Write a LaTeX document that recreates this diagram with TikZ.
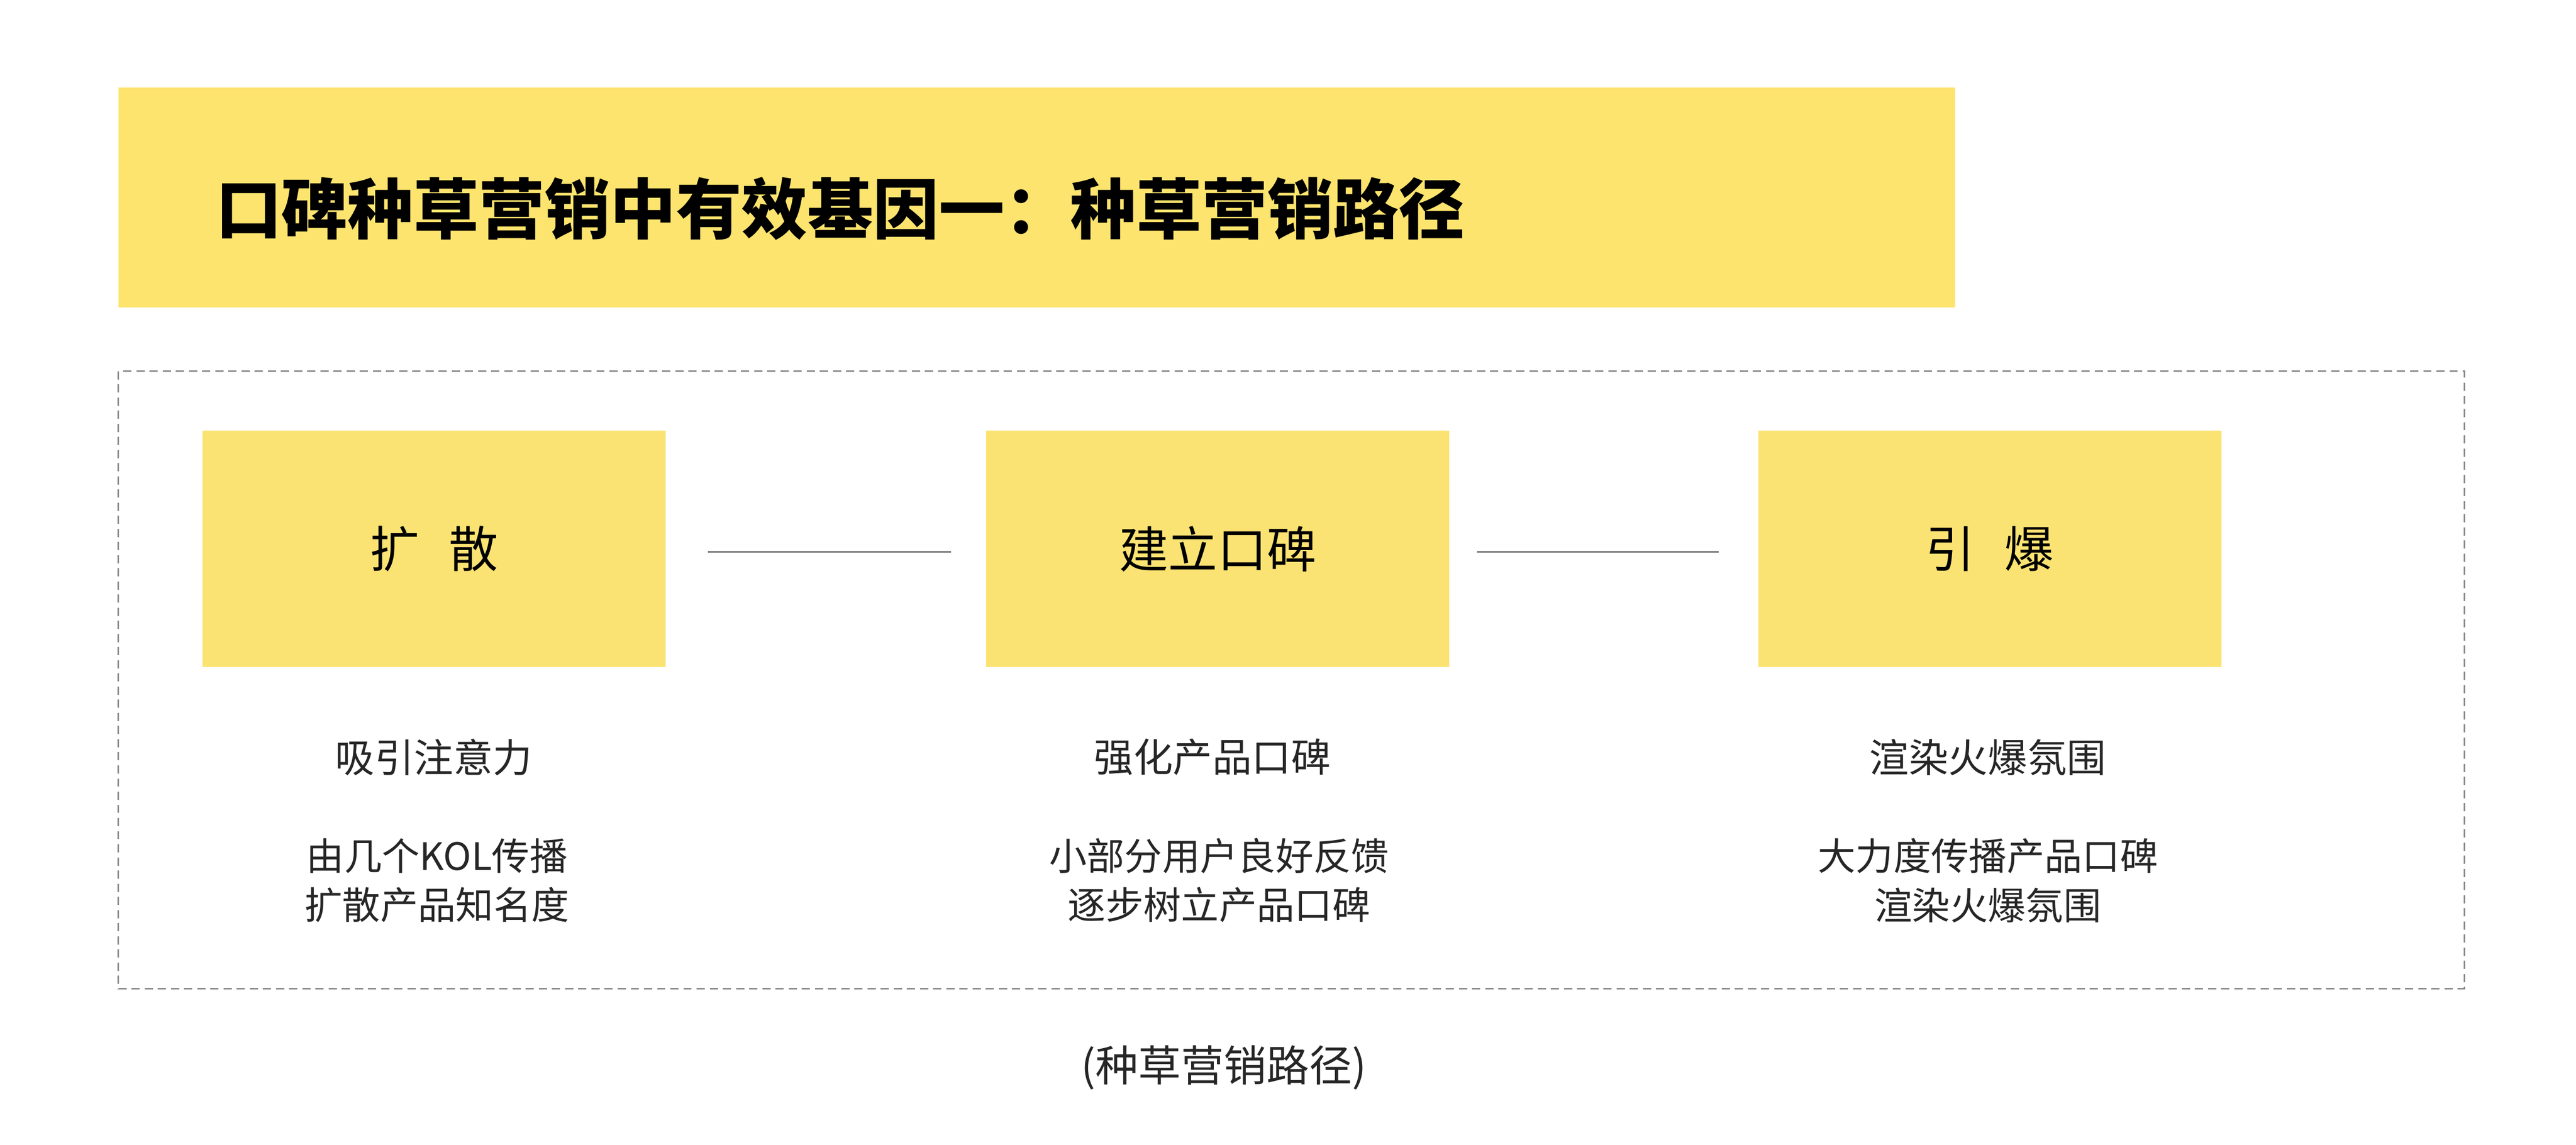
\documentclass[tikz,border=0pt]{standalone}
\usepackage{fontspec}
\setmainfont{Noto Sans CJK SC}
\newfontfamily\cjk{Noto Sans CJK SC}
\definecolor{titleY}{HTML}{FCE46E}
\definecolor{boxY}{HTML}{FBE373}
\begin{document}
\begin{tikzpicture}[x=1pt,y=-1pt,
  stagebox/.style={fill=boxY,draw=none,minimum width=282pt,minimum height=144pt,anchor=north west,inner sep=0pt,font=\fontsize{30}{36}\selectfont},
  desc/.style={align=center,font=\fontsize{23}{30}\selectfont,text=black!85},
  head/.style={font=\fontsize{24}{30}\selectfont,text=black!85},
  link/.style={draw=black!55,line width=0.8pt}]
\useasboundingbox (0,0) rectangle (1568,697);
\fill[white] (0,0) rectangle (1568,697);
\node[fill=titleY,minimum width=1118pt,minimum height=134pt,anchor=north west,inner sep=0pt] (title) at (72,53) {};
\node[anchor=west,font=\fontsize{40}{48}\selectfont\bfseries] (ttext) at (128,127) {口碑种草营销中有效基因一：种草营销路径};
\draw[dashed,draw=black!45,line width=0.8pt,dash pattern=on 5pt off 3pt] (72,226) rectangle (1500,602);
\node[stagebox] (b1) at (123,262) {扩\hspace{0.6em}散};
\node[stagebox] (b2) at (600,262) {建立口碑};
\node[stagebox] (b3) at (1070,262) {引\hspace{0.6em}爆};
\coordinate (l1a) at (431,336); \coordinate (l1b) at (579,336);
\coordinate (l2a) at (899,336); \coordinate (l2b) at (1046,336);
\draw[link] (l1a) -- (l1b);
\draw[link] (l2a) -- (l2b);
\node[head] (h1) at (264,461) {吸引注意力};
\node[head] (h2) at (738,461) {强化产品口碑};
\node[head] (h3) at (1210,461) {渲染火爆氛围};
\node[desc] (d1) at (266,536) {由几个KOL传播\\扩散产品知名度};
\node[desc] (d2) at (742,536) {小部分用户良好反馈\\逐步树立产品口碑};
\node[desc] (d3) at (1210,536) {大力度传播产品口碑\\渲染火爆氛围};
\node[font=\fontsize{26}{32}\selectfont,text=black!85] (cap) at (745,650) {(种草营销路径)};
\end{tikzpicture}
\end{document}
